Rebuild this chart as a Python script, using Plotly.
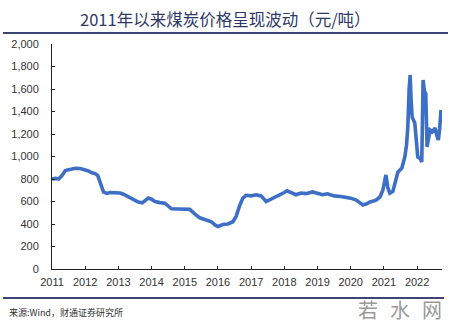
import plotly.graph_objects as go

# Decimal year and coal price (元/吨)
years = [2011.00, 2011.10, 2011.20, 2011.30, 2011.40, 2011.55, 2011.70, 2011.85,
         2012.00, 2012.10, 2012.20, 2012.30, 2012.38, 2012.45, 2012.55, 2012.65,
         2012.75, 2012.90, 2013.05, 2013.15, 2013.30, 2013.45, 2013.60, 2013.72,
         2013.82, 2013.90, 2014.00, 2014.10, 2014.25, 2014.40, 2014.50, 2014.60,
         2014.80, 2015.00, 2015.15, 2015.30, 2015.45, 2015.60, 2015.80, 2015.92,
         2016.00, 2016.15, 2016.30, 2016.45, 2016.55, 2016.65, 2016.75, 2016.85,
         2017.00, 2017.15, 2017.30, 2017.45, 2017.60, 2017.75, 2017.90, 2018.00,
         2018.08, 2018.20, 2018.35, 2018.50, 2018.65, 2018.85, 2019.00, 2019.15,
         2019.30, 2019.50, 2019.70, 2019.85, 2020.00, 2020.15, 2020.28, 2020.37,
         2020.48, 2020.58, 2020.75, 2020.88, 2020.97, 2021.06, 2021.12, 2021.18,
         2021.27, 2021.35, 2021.42, 2021.54, 2021.63, 2021.68, 2021.72, 2021.76,
         2021.79, 2021.82, 2021.85, 2021.93, 2021.98, 2022.02, 2022.10, 2022.14,
         2022.16, 2022.18, 2022.22, 2022.26, 2022.30, 2022.35, 2022.39, 2022.46,
         2022.54, 2022.60, 2022.64, 2022.68, 2022.72]
prices = [800, 805, 800, 830, 875, 885, 895, 893,
          885, 872, 855, 848, 830, 760, 685, 672,
          680, 678, 675, 665, 640, 615, 595, 588,
          610, 630, 620, 600, 590, 585, 560, 535,
          533, 535, 530, 490, 455, 440, 420, 390,
          378, 395, 400, 420, 470, 560, 630, 655,
          650, 660, 650, 600, 620, 640, 665, 680,
          695, 680, 660, 675, 670, 685, 670, 660,
          668, 650, 645, 640, 630, 615, 587, 569,
          580, 596, 610, 640, 702, 836, 720, 675,
          690, 800, 860, 898, 996, 1100, 1262, 1600,
          1724, 1500, 1351, 1298, 1150, 996, 980, 951,
          1300, 1680, 1580, 1560, 1084, 1200, 1236, 1220,
          1253, 1180, 1147, 1250, 1413]

tick_years = list(range(2011, 2023))
tick_labels = [str(y) for y in tick_years]
y_ticks = list(range(0, 2001, 200))

title_text = "2011年以来煤炭价格呈现波动（元/吨）"
source_text = "来源:Wind，财通证券研究所"
watermark = ["若", "水", "网"]

L, T, W, H = 52, 44, 390, 225


def px(x):
    return (x - L) / W


def py(y):
    return (T + H - y) / H


fig = go.Figure()
fig.add_trace(go.Scatter(x=years, y=prices, mode="lines",
                         line=dict(color="#3d6fc6", width=3.6),
                         hoverinfo="skip"))

fig.update_layout(
    width=450, height=325,
    margin=dict(l=L, r=450 - L - W, t=T, b=325 - T - H),
    paper_bgcolor="white", plot_bgcolor="white",
    showlegend=False,
    font=dict(family="Liberation Sans, Arial, sans-serif", color="#333333"),
    xaxis=dict(range=[2011, 2022.75], tickvals=tick_years, ticktext=tick_labels,
               showgrid=False, zeroline=False, showline=True, linecolor="#222222",
               linewidth=1, ticks="inside", ticklen=3, tickcolor="#222222",
               tickfont=dict(size=11, color="#333333"), ticklabelstandoff=3),
    yaxis=dict(range=[0, 2000], tickvals=y_ticks, tickformat=",",
               showgrid=False, zeroline=False, showline=True, linecolor="#222222",
               linewidth=1, ticks="inside", ticklen=3, tickcolor="#222222",
               tickfont=dict(size=11, color="#333333"), ticklabelstandoff=10),
)

cjk = "Noto Sans CJK SC"
annotations = [
    dict(text=title_text, x=px(225), y=py(19), xref="paper", yref="paper",
         xanchor="center", yanchor="middle", showarrow=False,
         font=dict(family=cjk, size=16.5, color="#2e3868")),
    dict(text=source_text, x=px(7), y=py(312), xref="paper", yref="paper",
         xanchor="left", yanchor="middle", showarrow=False,
         font=dict(family=cjk, size=9, color="#333333")),
]
for ch, cx in zip(watermark, [368, 400, 432]):
    annotations.append(dict(text=ch, x=px(cx), y=py(309), xref="paper", yref="paper",
                            xanchor="center", yanchor="middle", showarrow=False,
                            font=dict(family=cjk, size=20, color="#9a9a9a")))
fig.update_layout(annotations=annotations)

fig.add_shape(type="line", xref="paper", yref="paper", x0=px(3), x1=px(448),
              y0=py(33), y1=py(33), line=dict(color="#3c4576", width=2))
fig.add_shape(type="line", xref="paper", yref="paper", x0=px(3), x1=px(444),
              y0=py(298), y1=py(298), line=dict(color="#3c4576", width=2))

fig.write_html("out.html")
